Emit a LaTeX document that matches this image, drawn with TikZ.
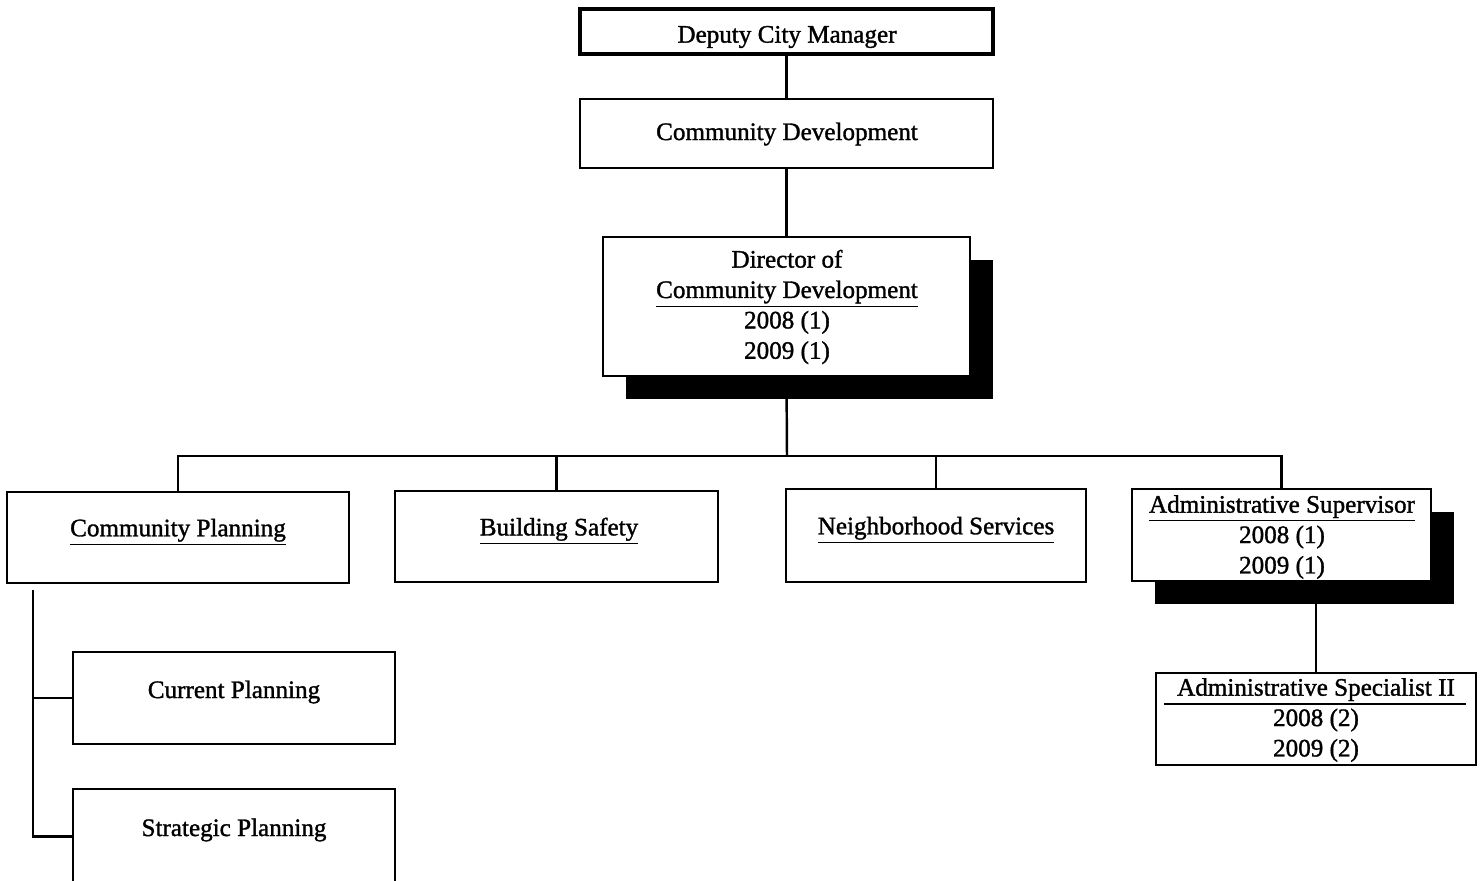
\documentclass[tikz,border=0pt]{standalone}
\usepackage{fontspec}
\setmainfont{Liberation Serif}[FakeBold=1.3]
\usetikzlibrary{shadows}
\newcommand{\mkbox}[6][]{%
  \node[box,#1,minimum width={(#4-#2)*0.02cm},minimum height={(#5-#3)*0.02cm}] (#6) at (#2,#3) {};}
\begin{document}
\begin{tikzpicture}[x=0.02cm,y=-0.02cm,
  box/.style={draw,line width=1.2pt,fill=white,inner sep=0pt,outer sep=0pt,anchor=north west},
  thickbox/.style={line width=2.6pt},
  shadowed/.style={drop shadow={shadow xshift=0.46cm,shadow yshift=-0.46cm,fill=black,opacity=1}},
  lbl/.style={font=\fontsize{14.3}{17.3}\selectfont,align=center,inner sep=0pt},
  link/.style={line width=1.4pt}]
\useasboundingbox (0,0) rectangle (1482,880);

% boxes
\mkbox[thickbox]{580}{9}{993}{54}{dcm}
\mkbox{580}{99}{993}{168}{cd}
\mkbox[shadowed]{603}{237}{970}{376}{dir}
\mkbox{7}{492}{349}{583}{cp}
\mkbox{395}{491}{718}{582}{bs}
\mkbox{786}{489}{1086}{582}{ns}
\mkbox[shadowed]{1132}{489}{1431}{581}{as}
\mkbox{1156}{673}{1476}{765}{ss}
\mkbox{73}{652}{395}{744}{cur}
\mkbox{73}{789}{395}{884}{sp}

% texts
\node[lbl] (dcm-t) at (787,37) {Deputy City Manager};
\node[lbl] (cd-t) at (787,134) {Community Development};
\node[lbl] (dir-t) at (787,307) {Director of\\\underline{Community Development}\\2008 (1)\\2009 (1)};
\node[lbl] (cp-t) at (178,532) {\underline{Community Planning}};
\node[lbl] (bs-t) at (559,531) {\underline{Building Safety}};
\node[lbl] (ns-t) at (936,530) {\underline{Neighborhood Services}};
\node[lbl] (as-t) at (1282,537) {\underline{Administrative Supervisor}\\2008 (1)\\2009 (1)};
\node[lbl] (ss-t) at (1316,720) {Administrative Specialist II\\2008 (2)\\2009 (2)};
\node[lbl] (cur-t) at (234,692) {Current Planning};
\node[lbl] (sp-t) at (234,830) {Strategic Planning};
\draw[line width=1.1pt] ([xshift=0.16cm,yshift=-0.62cm]ss.north west) -- ([xshift=-0.2cm,yshift=-0.62cm]ss.north east);

% connectors
\coordinate (bar) at (787,456);
\coordinate (cpb) at (33,590);
\draw[link] (dcm.south) -- (cd.north);
\draw[link] (cd.south) -- (dir.north);
\draw[link] (dir.south) -- (bar);
\draw[link] (cp.north) -- (cp.north |- bar) -- (as.north |- bar) -- (as.north);
\draw[link] (bs.north) -- (bs.north |- bar);
\draw[link] (ns.north) -- (ns.north |- bar);
\draw[link] (ss.north |- as.south) -- (ss.north);
\draw[link] (cpb) |- (sp.west);
\draw[link] (cpb |- cur.west) -- (cur.west);
\end{tikzpicture}
\end{document}
